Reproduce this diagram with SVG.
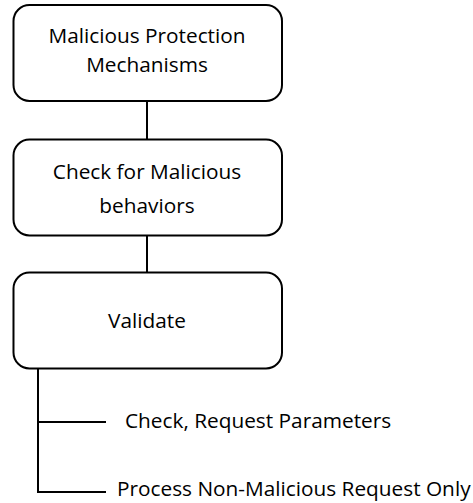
<svg xmlns="http://www.w3.org/2000/svg" width="473" height="503" viewBox="0 0 473 503">
<style>
.box{fill:#fff;stroke:#000;stroke-width:2}
.ln{stroke:#000;stroke-width:2;fill:none}
text{font-family:"Open Sans","Liberation Sans",sans-serif;font-size:20.8px;fill:#000}
.c{text-anchor:middle}
</style>
<rect width="473" height="503" fill="#fff"/>
<g id="connectors">
<line class="ln" x1="147" y1="101" x2="147" y2="139"/>
<line class="ln" x1="147" y1="235" x2="147" y2="272"/>
<path class="ln" d="M38 368 V492 H106 M38 422 H106"/>
</g>
<g id="n1">
<rect class="box" x="13.5" y="5" width="268.5" height="96" rx="16"/>
<text class="c" x="147" y="43">Malicious Protection</text>
<text class="c" x="147" y="72">Mechanisms</text>
</g>
<g id="n2">
<rect class="box" x="13.5" y="139.5" width="268.5" height="96" rx="16"/>
<text class="c" x="147" y="179">Check for Malicious</text>
<text class="c" x="147" y="213">behaviors</text>
</g>
<g id="n3">
<rect class="box" x="13.5" y="272.5" width="268.5" height="96" rx="16"/>
<text class="c" x="147" y="328">Validate</text>
</g>
<g id="n4"><text x="125" y="428">Check, Request Parameters</text></g>
<g id="n5"><text x="117" y="496">Process Non-Malicious Request Only</text></g>
</svg>
